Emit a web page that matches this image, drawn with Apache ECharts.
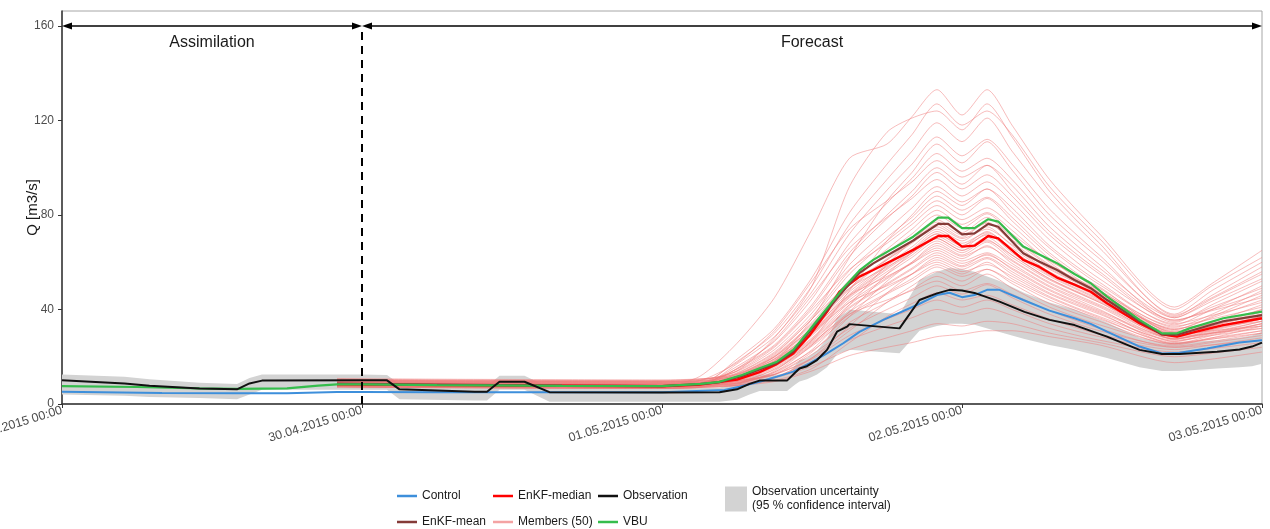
<!DOCTYPE html>
<html>
<head>
<meta charset="utf-8">
<script src="https://cdn.jsdelivr.net/npm/echarts@6.0.0/dist/echarts.min.js"></script>
<style>
  html, body { margin: 0; padding: 0; background: #ffffff; }
  #chart { width: 1270px; height: 529px; }
</style>
</head>
<body>
<div id="chart"></div>
<script>
// Time is given in hours after 29.04.2015 00:00
const xTickHours = [0, 24, 48, 72, 96];
const xTickLabels = ['29.04.2015 00:00', '30.04.2015 00:00', '01.05.2015 00:00', '02.05.2015 00:00', '03.05.2015 00:00'];
const yTicks = [0, 40, 80, 120, 160];

// Observation and its 95 % uncertainty band
const obsHours = [0, 5, 7, 11, 14, 15, 16, 24, 26, 27, 33, 34, 35, 37, 39, 48, 52.6, 54, 55, 55.8, 58, 58.6, 59, 59.6, 60.4, 61.2, 62, 62.8, 63, 67, 68.6, 70, 71, 72, 73, 75, 77, 79, 81, 83.6, 86.2, 88, 89.4, 92.4, 94.2, 95.2, 96];
const obsValues = [10, 8.7, 7.7, 6.6, 6.2, 8.7, 9.9, 10, 10, 6.2, 5.2, 5.2, 9.4, 9.4, 5, 4.9, 5, 6.2, 8.5, 9.9, 9.9, 13, 15, 16, 18.6, 22.9, 30.6, 32.7, 33.8, 32, 44, 46.8, 48.3, 48, 47, 43.3, 39, 35.6, 33.4, 28.5, 22.9, 21.2, 21.2, 22.1, 23.1, 24.3, 26];
const bandLow = [4, 3.5, 3, 2.5, 2, 4, 6, 6, 6, 2, 1.5, 1.5, 6, 6, 1, 1, 1, 1.8, 4, 5.5, 5.5, 8, 9.5, 10.5, 12.5, 15.5, 21, 22.5, 23, 21.5, 31, 33, 34, 34, 33.5, 30.5, 27.5, 25, 23, 19.5, 15.5, 14, 14, 15, 15.5, 16, 17];
const bandHigh = [12.5, 11.5, 10.5, 9, 8.5, 11, 12.5, 12.5, 12.3, 8.5, 7.5, 7.5, 12, 12, 7, 7, 7, 8.5, 11, 12.5, 12.5, 16, 18.5, 19.5, 22.5, 27.5, 36.5, 39, 40, 38, 52.5, 56, 57.5, 57, 56, 52, 47, 43, 40, 34.5, 28, 26, 26, 27, 28, 29, 30.5];

// Control run
const ctrlHours = [0, 8, 14, 18, 22, 24, 30, 48, 53, 54.2, 55.8, 57.2, 58.5, 59.8, 61.2, 62.5, 63.8, 65.7, 68.4, 70, 71, 72, 73, 74, 75, 76.9, 79, 81, 82.3, 83.6, 86.2, 88, 89.4, 91.6, 94.2, 96];
const ctrlValues = [5.2, 4.7, 4.5, 4.6, 5.1, 5.1, 5, 5, 5.9, 7.3, 9.4, 11.6, 13.7, 17.2, 21.4, 25.7, 30.5, 35.6, 41.9, 46.1, 47.1, 45.2, 46.1, 48.3, 48.3, 44, 39.5, 36.3, 33.9, 30.6, 24.3, 21.4, 21.7, 23.5, 26, 27];

// VBU run
const vbuHours = [0, 6, 11, 14, 18, 20.5, 22, 24, 30, 40, 48, 51.1, 52.6, 54.4, 55.8, 57.2, 58.5, 59.8, 61.2, 62.5, 63.8, 64.9, 68.1, 70.1, 70.9, 72, 73, 74.1, 74.9, 76.9, 79.6, 81, 82.3, 83.6, 86.2, 88, 89.2, 90.2, 92.9, 96];
const vbuValues = [7.6, 7.2, 6.6, 6.4, 6.6, 7.8, 8.3, 8.3, 8, 7.7, 7.6, 8.5, 9.4, 12.3, 15.1, 17.9, 22.9, 31.3, 40.5, 49, 56.5, 61, 70.8, 78.9, 78.9, 74.4, 74.4, 78.2, 77.2, 66.6, 59.6, 55, 51.1, 45.4, 35.6, 29.9, 29.9, 32, 36.3, 39.1];

// Ensemble median
const medHours = [22, 30, 40, 48, 51, 54, 55.8, 57.2, 58.5, 59.8, 61.2, 62.2, 63.8, 64.9, 68.1, 70.1, 70.9, 72, 73, 74.1, 74.9, 76.9, 78.2, 79.6, 81, 82.3, 83.6, 86.2, 88, 89.2, 90.2, 92.9, 96];
const medValues = [8.3, 8, 7.7, 7.5, 8.2, 10.3, 13.5, 17, 21.4, 29, 39, 47.5, 53.9, 56.7, 65.2, 71.1, 71.1, 66.6, 67, 71.1, 70.1, 61, 58, 53.5, 50.5, 47.5, 42.6, 34.2, 29.5, 28.5, 29.9, 33.4, 36.3];

// Ensemble mean
const meanHours = [22, 30, 40, 48, 51, 52.6, 54.4, 55.8, 57.2, 58.5, 59.8, 61.2, 62.5, 63.8, 64.9, 68.1, 70.1, 70.9, 72, 73, 74.1, 74.9, 76.9, 78.2, 79.6, 81, 82.3, 83.6, 86.2, 88, 89.2, 90.2, 92.9, 96];
const meanValues = [8.6, 8.2, 7.8, 7.6, 8.4, 9.2, 11.9, 14.6, 17.4, 22.2, 30.5, 39.6, 47.8, 55.5, 59.5, 69.2, 76.2, 76.2, 71.8, 72.2, 76.2, 75, 63.8, 60.2, 56.7, 52.5, 49, 44, 35, 29.4, 29.3, 30.8, 35, 37.6];

// Ensemble members (50), all on the same hour grid
const memberHours = [22, 30, 40, 48, 51, 54, 57, 60, 63, 66, 68, 70, 72, 74, 76, 79, 83, 89, 92, 96];
const members = [
  [7.5, 7.2, 7.0, 6.9, 7.1, 7.8, 9.5, 14, 20.5, 24, 26, 28.5, 29.5, 31, 31, 28.5, 25, 17.5, 19, 22],
  [8, 7.7, 7.5, 7.4, 7.7, 8.5, 11, 16, 23, 28, 31, 34, 33, 35, 34, 30, 26, 20, 21.5, 24],
  [7.2, 6.9, 6.7, 6.6, 7, 8, 11.5, 18, 27, 33, 36.5, 40, 38, 40.5, 37.5, 32, 27, 22, 23.5, 26],
  [9, 8.7, 8.5, 8.4, 8.8, 9.8, 12.5, 19, 29, 36, 40, 44, 41, 44, 40, 34, 28.5, 23, 25, 28],
  [7.8, 7.5, 7.3, 7.2, 7.4, 8, 10, 15, 26, 37, 42.5, 47, 44, 46, 42, 36, 29.5, 24, 25, 27],
  [8.5, 8.2, 8, 7.9, 8.3, 9.5, 12.5, 21, 32, 40, 45, 50, 46.5, 50.5, 45, 38, 31, 24.5, 26.5, 30],
  [10, 9.7, 9.5, 9.4, 9.9, 11.5, 16, 26, 38, 44, 48, 52, 48, 51, 46.5, 39.5, 32, 24, 26, 29],
  [7.4, 7.1, 6.9, 6.8, 7.2, 8.4, 13.5, 22.5, 34.5, 43, 48.5, 54, 50, 55, 49, 41, 33.5, 25.5, 27.5, 31],
  [9.5, 9.2, 9, 8.9, 9.2, 10, 12.5, 19.5, 31, 43, 50, 56, 52, 57, 51, 42.5, 35, 25, 28, 33],
  [8.2, 7.9, 7.7, 7.6, 8, 9.2, 14.5, 24.5, 37, 46.5, 52, 58, 54, 57, 52, 44, 36, 26, 27.5, 30],
  [7.6, 7.3, 7.1, 7, 7.4, 8.9, 14.8, 25, 38, 47, 53, 59, 55, 60, 53, 45, 36.5, 25.5, 29, 34],
  [10.5, 10.2, 10, 9.9, 10.6, 12.5, 19, 30, 43, 50, 55, 60, 56, 59, 54, 45.5, 37, 27, 29, 32],
  [8.8, 8.5, 8.3, 8.2, 8.6, 9.6, 15.3, 25.5, 39, 49, 55, 61, 57, 61.5, 55, 46.5, 38, 26.5, 30, 35],
  [7.3, 7, 6.8, 6.7, 7, 7.8, 11, 19.5, 33, 47, 55, 62, 58, 62, 56, 47, 38.5, 25.5, 28, 31],
  [9.2, 8.9, 8.7, 8.6, 9, 10.2, 15.8, 26.5, 40.5, 50.5, 57, 63, 58.5, 63.5, 57, 48, 39, 27.5, 31, 36],
  [8, 7.7, 7.5, 7.4, 7.8, 9.6, 16, 27, 41, 51, 57.5, 64, 59.5, 63, 57.5, 48.5, 39.5, 28, 30, 33],
  [10.2, 9.9, 9.7, 9.6, 10.4, 12.8, 20, 32, 46, 54, 59.5, 65, 60.5, 64, 58.5, 49.5, 40, 26.5, 29.5, 34],
  [7.7, 7.4, 7.2, 7.1, 7.5, 9.9, 16.5, 27.5, 42, 53, 59.5, 66, 61.5, 67, 59.5, 50, 41, 27.5, 31.5, 37],
  [9, 8.7, 8.5, 8.4, 8.8, 10, 16.8, 28, 43, 53.5, 60, 67, 62.5, 66.5, 60.5, 51, 41.5, 28.5, 30, 32],
  [8.4, 8.1, 7.9, 7.8, 8.1, 8.8, 12.5, 22, 37, 52, 60, 68, 63, 68.5, 61, 51.5, 42, 29, 33, 38],
  [7.5, 7.2, 7, 6.9, 7.3, 10.3, 17.3, 29, 44, 55, 62, 69, 64, 69.5, 62, 52.5, 43, 27.5, 30.5, 35],
  [9.8, 9.5, 9.3, 9.2, 9.6, 10.8, 17.5, 29.5, 45, 56, 63, 70, 65, 70.5, 63, 53, 43.5, 28.5, 31.5, 36],
  [8.1, 7.8, 7.6, 7.5, 8.2, 11.5, 20, 34, 49, 58, 64, 70, 65, 69, 63, 53, 43, 29.5, 31, 33],
  [7.2, 6.9, 6.7, 6.6, 7, 10.5, 17.8, 30, 45.5, 57, 64, 71, 66, 72, 64, 54, 44, 28.5, 33, 40],
  [9.4, 9.1, 8.9, 8.8, 9.2, 10.8, 18, 30, 46, 57.5, 65, 72, 67, 71.5, 65, 54.5, 44.5, 30, 32.5, 37],
  [8.6, 8.3, 8.1, 8, 8.3, 9, 13, 23, 39, 55, 64, 72, 67, 73, 65, 55, 45, 27.5, 30, 34],
  [10.8, 10.5, 10.3, 10.2, 10.6, 11.8, 18.3, 30.5, 46.5, 58.5, 65.5, 73, 68, 72.5, 66, 55.5, 45.5, 29.5, 33, 39],
  [7.9, 7.6, 7.4, 7.3, 7.7, 11, 18.5, 31, 47.5, 59, 66.5, 74, 69, 75, 67, 56, 46, 30.5, 32.5, 36],
  [8.9, 8.6, 8.4, 8.3, 9, 12.5, 21, 36, 51, 61, 68, 75, 70, 74, 67.5, 57, 46.5, 29.5, 34.5, 42],
  [7.4, 7.1, 6.9, 6.8, 7.2, 11.4, 19, 32, 48.5, 61, 68.5, 76, 70.5, 77, 68.5, 57.5, 47, 31, 34, 38],
  [9.6, 9.3, 9.1, 9, 9.4, 11.6, 19.3, 32.5, 49, 61.5, 69, 77, 71.5, 76.5, 69.5, 58.5, 47.5, 30.5, 32.5, 35],
  [8.3, 8, 7.8, 7.7, 8, 8.8, 13.5, 25, 42, 59, 69, 78, 72.5, 79, 70.5, 59, 48, 31.5, 36.5, 44],
  [7.7, 7.4, 7.2, 7.1, 7.5, 12, 20, 33.5, 51, 64, 72, 80, 74.5, 80.5, 72, 60.5, 49.5, 30, 34, 40],
  [10, 9.7, 9.5, 9.4, 9.8, 12.3, 20.5, 34.5, 52.5, 65.5, 74, 82, 76, 81, 73.5, 60, 46, 32, 34, 37],
  [8.5, 8.2, 8, 7.9, 8.8, 14, 24, 40, 57, 68, 76, 84, 78, 83, 75.5, 61.5, 47, 31.5, 37, 46],
  [7.5, 7.2, 7, 6.9, 7.3, 12.9, 21.5, 36, 55, 69, 77.5, 86, 80, 87, 77.5, 63, 48, 33, 36, 41],
  [9.1, 8.8, 8.6, 8.5, 8.9, 13.2, 22, 37, 56.5, 70.5, 79, 88, 82, 87.5, 79, 64, 49, 32.5, 38, 48],
  [8, 7.7, 7.5, 7.4, 7.7, 8.6, 14, 27, 48, 69, 80, 90, 84, 91, 81, 66, 50.5, 34, 37.5, 43],
  [10.4, 10.1, 9.9, 9.8, 10.2, 13.8, 23, 38.5, 59, 73.5, 83, 92, 85.5, 91, 83, 67, 51.5, 33.5, 40, 50],
  [7.8, 7.5, 7.3, 7.2, 8.2, 15, 27, 46, 66, 79, 87, 95, 88, 94, 85.5, 69.5, 53, 35.5, 39.5, 45],
  [8.7, 8.4, 8.2, 8.1, 8.5, 14.7, 24.5, 41, 62.5, 78.5, 88, 98, 91, 97, 88, 71.5, 55, 34.5, 42, 52],
  [7.3, 7, 6.8, 6.7, 7.1, 15, 25, 42, 64, 80, 90, 100, 93, 101, 90, 73, 56, 35.5, 40, 47],
  [9.3, 9, 8.8, 8.7, 9.8, 17.5, 31, 52, 74, 86, 94, 103, 96, 101, 92.5, 75, 57.5, 36.5, 44.5, 55],
  [8.2, 7.9, 7.7, 7.6, 8, 15.9, 26.5, 44.5, 68, 85, 95.5, 106, 98.5, 104, 95, 77.5, 59, 35, 41, 49],
  [10.1, 9.8, 9.6, 9.5, 9.8, 11, 18, 36, 62, 86, 98, 110, 102, 111, 99, 80, 61.5, 37, 46, 58],
  [7.6, 7.3, 7.1, 7, 7.4, 17, 28.5, 47.5, 72, 90.5, 101.5, 113, 105, 112, 101.5, 82.5, 63, 36.5, 43.5, 53],
  [8.8, 8.5, 8.3, 8.2, 8.6, 18, 30, 50, 76, 95, 107, 119, 111, 121, 107, 87, 66, 38, 48, 60],
  [9.7, 9.4, 9.2, 9.1, 10, 14, 28, 50, 92, 115, 121, 124, 116, 127, 113, 90, 68, 37.5, 45, 56],
  [7.9, 7.6, 7.4, 7.3, 7.7, 19, 32, 53.5, 81, 101.5, 114, 127, 118, 124, 114, 92, 70, 40, 50, 62],
  [8.4, 8.1, 7.9, 7.8, 11.6, 25.7, 45, 74, 104, 110, 121.6, 133, 122.3, 133, 118, 95, 72, 41, 51, 65]
];

const FONT = '"Liberation Sans", Arial, sans-serif';
const COLORS = {
  control: '#3d8fdb',
  median: '#ff0000',
  obs: '#111111',
  mean: '#853b38',
  member: '#f07a7a',
  vbu: '#35bd4c',
  band: '#d3d3d3'
};

function pairs(hours, values) {
  return hours.map((h, i) => [h, values[i]]);
}

function mainLine(name, hours, values, color, width) {
  return {
    name: name,
    type: 'line',
    data: pairs(hours, values),
    showSymbol: false,
    symbol: 'none',
    silent: true,
    animation: false,
    lineStyle: { color: color, width: width },
    itemStyle: { color: color }
  };
}

const series = [];

// Observation uncertainty band as a polygon
series.push({
  name: 'Observation uncertainty',
  type: 'custom',
  silent: true,
  animation: false,
  itemStyle: { color: COLORS.band },
  encode: { x: 0, y: [1, 2] },
  data: obsHours.map((h, i) => [h, bandLow[i], bandHigh[i]]),
  renderItem: function (params, api) {
    if (params.dataIndex !== 0) return null;
    const upper = obsHours.map((h, i) => api.coord([h, bandHigh[i]]));
    const lower = obsHours.map((h, i) => api.coord([h, bandLow[i]])).reverse();
    return {
      type: 'polygon',
      shape: { points: upper.concat(lower) },
      style: { fill: COLORS.band }
    };
  }
});

// Ensemble members
members.forEach(function (vals) {
  series.push({
    name: 'Members (50)',
    type: 'line',
    data: pairs(memberHours, vals),
    showSymbol: false,
    symbol: 'none',
    silent: true,
    animation: false,
    smooth: 0.25,
    lineStyle: { color: COLORS.member, width: 1, opacity: 0.5 },
    itemStyle: { color: COLORS.member }
  });
});

series.push(mainLine('Control', ctrlHours, ctrlValues, COLORS.control, 2));
series.push(mainLine('EnKF-median', medHours, medValues, COLORS.median, 2.4));
series.push(mainLine('EnKF-mean', meanHours, meanValues, COLORS.mean, 2.2));
series.push(mainLine('VBU', vbuHours, vbuValues, COLORS.vbu, 2.2));
series.push(mainLine('Observation', obsHours, obsValues, COLORS.obs, 2));

// Period arrows, separator and period titles
const arrowStyle = { type: 'solid', width: 1.5, color: '#000000' };
series.push({
  name: 'periods',
  type: 'line',
  data: [],
  silent: true,
  animation: false,
  markLine: {
    silent: true,
    animation: false,
    symbol: ['triangle', 'triangle'],
    symbolSize: [7, 10],
    label: { show: false },
    data: [
      [{ coord: [0.4, 160], lineStyle: arrowStyle }, { coord: [23.6, 160] }],
      [{ coord: [24.4, 160], lineStyle: arrowStyle }, { coord: [95.6, 160] }],
      [{ coord: [24, 0], symbol: 'none', lineStyle: { type: [8, 6], width: 2, color: '#000000' } },
       { coord: [24, 157.5], symbol: 'none' }]
    ]
  },
  markPoint: {
    silent: true,
    animation: false,
    symbol: 'circle',
    symbolSize: 0,
    label: {
      show: true,
      position: 'inside',
      fontFamily: FONT,
      fontSize: 16,
      color: '#1a1a1a'
    },
    data: [
      { coord: [12, 153], label: { formatter: 'Assimilation' } },
      { coord: [60, 153], label: { formatter: 'Forecast' } }
    ]
  }
});

const legendCommon = {
  orient: 'vertical',
  top: 490,
  itemGap: 14,
  itemWidth: 20,
  itemHeight: 2.5,
  padding: 0,
  selectedMode: false,
  textStyle: { fontFamily: FONT, fontSize: 12, color: '#1a1a1a' }
};

function legendItem(name, color) {
  return { name: name, icon: 'rect', itemStyle: { color: color, opacity: 1, borderWidth: 0 } };
}

const chart = echarts.init(document.getElementById('chart'), null, { renderer: 'canvas' });
chart.setOption({
  animation: false,
  backgroundColor: '#ffffff',
  textStyle: { fontFamily: FONT },
  grid: {
    left: 62, right: 8, top: 11, bottom: 125,
    show: true,
    borderColor: '#a6a6a6',
    borderWidth: 1,
    backgroundColor: 'transparent',
    containLabel: false,
    outerBoundsMode: 'none'
  },
  legend: [
    Object.assign({}, legendCommon, { left: 397, data: [legendItem('Control', COLORS.control), legendItem('EnKF-mean', COLORS.mean)] }),
    Object.assign({}, legendCommon, { left: 493, data: [legendItem('EnKF-median', COLORS.median), legendItem('Members (50)', '#f4a3a3')] }),
    Object.assign({}, legendCommon, { left: 598, data: [legendItem('Observation', COLORS.obs), legendItem('VBU', COLORS.vbu)] }),
    Object.assign({}, legendCommon, {
      left: 725, top: 485, itemWidth: 22, itemHeight: 25,
      data: [legendItem('Observation uncertainty', COLORS.band)],
      formatter: function () { return 'Observation uncertainty\n(95 % confidence interval)'; },
      textStyle: { fontFamily: FONT, fontSize: 12, color: '#1a1a1a', lineHeight: 14 }
    })
  ],
  xAxis: {
    type: 'value',
    min: 0,
    max: 96,
    interval: 24,
    splitLine: { show: false },
    axisLine: { show: true, onZero: false, lineStyle: { color: '#333333', width: 1.5 } },
    axisTick: { show: true, length: 4, lineStyle: { color: '#333333', width: 1 } },
    axisLabel: {
      rotate: 17,
      margin: 6,
      fontFamily: FONT,
      fontSize: 12.5,
      color: '#4d4d4d',
      showMinLabel: true,
      showMaxLabel: true,
      hideOverlap: false,
      formatter: function (v) {
        const i = xTickHours.indexOf(v);
        return i >= 0 ? xTickLabels[i] : '';
      }
    }
  },
  yAxis: {
    type: 'value',
    min: 0,
    max: 166.3,
    interval: 40,
    name: 'Q [m3/s]',
    nameLocation: 'middle',
    nameGap: 22,
    nameRotate: 90,
    nameMoveOverlap: false,
    nameTextStyle: { fontFamily: FONT, fontSize: 15, color: '#1a1a1a', verticalAlign: 'bottom' },
    splitLine: { show: false },
    axisLine: { show: true, onZero: false, lineStyle: { color: '#333333', width: 1.5 } },
    axisTick: { show: true, length: 4, customValues: yTicks, lineStyle: { color: '#333333', width: 1 } },
    axisLabel: {
      margin: 8,
      fontFamily: FONT,
      fontSize: 12,
      color: '#4d4d4d',
      customValues: yTicks,
      formatter: function (v) { return yTicks.indexOf(v) >= 0 ? String(v) : ''; }
    }
  },
  series: series
});
</script>
</body>
</html>
